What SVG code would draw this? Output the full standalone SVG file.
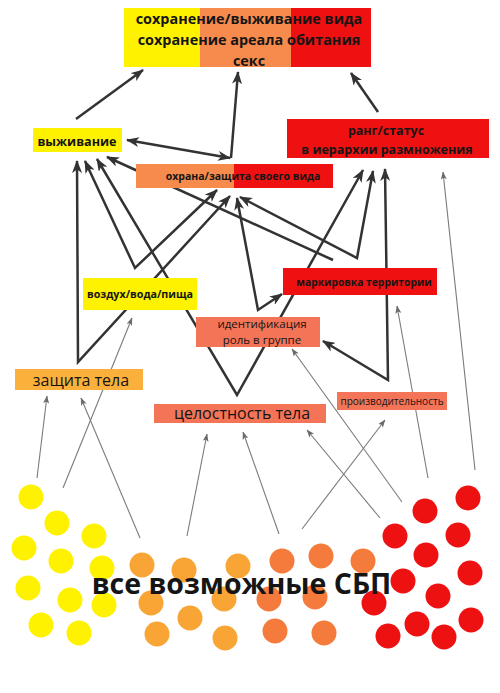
<svg xmlns="http://www.w3.org/2000/svg" width="500" height="693" viewBox="0 0 500 693">
<style>
  .t { font-family: "Open Sans", "Liberation Sans", sans-serif; fill: #151515; text-anchor: middle; }
  .b { font-weight: bold; }
  .thick { fill: none; stroke: #333333; stroke-width: 2.5; stroke-linejoin: miter; }
  .thin { fill: none; stroke: #7a7a7a; stroke-width: 1.1; }
  .yel { fill: #FFF200; }
  .org { fill: #F78B4D; }
  .red { fill: #EF1111; }
  .sal { fill: #F47458; }
  .amb { fill: #FBB03B; }
  .cy { fill: #FFF200; }
  .co { fill: #F9A535; }
  .cd { fill: #F47B3C; }
  .cr { fill: #EE1111; }
</style>
<defs>
  <marker id="ah" viewBox="0 0 13 10" refX="12" refY="5" markerWidth="13" markerHeight="10" markerUnits="userSpaceOnUse" orient="auto-start-reverse">
    <path d="M0,0 L13,5 L0,10 L3.5,5 Z" fill="#333333"/>
  </marker>
  <marker id="ahs" viewBox="0 0 8 6" refX="7.5" refY="3" markerWidth="8" markerHeight="6" markerUnits="userSpaceOnUse" orient="auto-start-reverse">
    <path d="M0,0 L8,3 L0,6 L2,3 Z" fill="#6a6a6a"/>
  </marker>
</defs>
<rect width="500" height="693" fill="#ffffff"/>

<g id="connectors">
  <g id="thin-arrows">
    <line class="thin" x1="37" y1="478" x2="47" y2="396" marker-end="url(#ahs)"/>
    <line class="thin" x1="63" y1="488" x2="132" y2="318" marker-end="url(#ahs)"/>
    <line class="thin" x1="140" y1="538" x2="81" y2="398" marker-end="url(#ahs)"/>
    <line class="thin" x1="187" y1="536" x2="207" y2="434" marker-end="url(#ahs)"/>
    <line class="thin" x1="279" y1="534" x2="243" y2="432" marker-end="url(#ahs)"/>
    <line class="thin" x1="302" y1="529" x2="385" y2="420" marker-end="url(#ahs)"/>
    <line class="thin" x1="380" y1="518" x2="307" y2="430" marker-end="url(#ahs)"/>
    <line class="thin" x1="402" y1="502" x2="292" y2="349" marker-end="url(#ahs)"/>
    <line class="thin" x1="428" y1="478" x2="397" y2="306" marker-end="url(#ahs)"/>
    <line class="thin" x1="475" y1="470" x2="443" y2="172" marker-end="url(#ahs)"/>
  </g>
  <g id="thick-arrows">
    <line class="thick" x1="76" y1="119" x2="143" y2="70" marker-end="url(#ah)"/>
    <line class="thick" x1="127" y1="140" x2="230" y2="158" marker-start="url(#ah)" marker-end="url(#ah)"/>
    <line class="thick" x1="231" y1="158" x2="238" y2="72" marker-end="url(#ah)"/>
    <line class="thick" x1="378" y1="112" x2="351" y2="73" marker-end="url(#ah)"/>
    <polyline class="thick" points="77,161 78,362 230,196" marker-start="url(#ah)" marker-end="url(#ah)"/>
    <polyline class="thick" points="85,161 135,268 217,190" marker-start="url(#ah)" marker-end="url(#ah)"/>
    <polyline class="thick" points="97,159 237,395 363,170" marker-start="url(#ah)" marker-end="url(#ah)"/>
    <line class="thick" x1="107" y1="157" x2="333" y2="260" marker-start="url(#ah)"/>
    <polyline class="thick" points="240,197 357,258 373,171" marker-start="url(#ah)" marker-end="url(#ah)"/>
    <polyline class="thick" points="237,198 258,310 282,294" marker-start="url(#ah)" marker-end="url(#ah)"/>
    <polyline class="thick" points="385,169 388,380 323,341" marker-start="url(#ah)" marker-end="url(#ah)"/>
  </g>
</g>

<g id="top">
  <rect class="yel" x="124" y="8" width="76" height="59"/>
  <rect class="org" x="200" y="8" width="91" height="59"/>
  <rect class="red" x="291" y="8" width="80" height="59"/>
  <text class="t b" x="249" y="23.5" font-size="14.4">сохранение/выживание вида</text>
  <text class="t b" x="249" y="45" font-size="14.4">сохранение ареала обитания</text>
  <text class="t b" x="249" y="66" font-size="14.4">секс</text>
</g>

<g id="vyzhivanie">
  <rect class="yel" x="33" y="128" width="89" height="24"/>
  <text class="t b" x="77" y="145.5" font-size="12.6">выживание</text>
</g>

<g id="rang">
  <rect class="red" x="287" y="119" width="202" height="39"/>
  <text class="t b" x="386" y="134.5" font-size="12.5">ранг/статус</text>
  <text class="t b" x="387" y="153.5" font-size="12.5">в иерархии размножения</text>
</g>

<g id="ohrana">
  <rect class="org" x="136" y="164" width="99" height="24"/>
  <rect class="red" x="234" y="164" width="99" height="24"/>
  <text class="t b" x="243" y="180" font-size="10.5">охрана/защита своего вида</text>
</g>

<g id="vozduh">
  <rect class="yel" x="83" y="278" width="114" height="32"/>
  <text class="t b" x="140" y="298" font-size="10.7">воздух/вода/пища</text>
</g>

<g id="markirovka">
  <rect class="red" x="283" y="268" width="154" height="27"/>
  <text class="t b" x="364" y="286" font-size="10.3">маркировка территории</text>
</g>

<g id="identifikaciya">
  <rect class="sal" x="196" y="317" width="124" height="30"/>
  <text class="t" x="262" y="327.5" font-size="11.5">идентификация</text>
  <text class="t" x="262" y="343.5" font-size="11.5">роль в группе</text>
</g>

<g id="zashchita-tela">
  <rect class="amb" x="15" y="369" width="128" height="21"/>
  <text class="t" x="81" y="385.5" font-size="16">защита тела</text>
</g>

<g id="celostnost">
  <rect class="sal" x="154" y="404" width="172" height="19"/>
  <text class="t" x="242" y="419" font-size="16">целостность тела</text>
</g>

<g id="proizvoditelnost">
  <rect class="sal" x="337" y="392" width="110" height="18"/>
  <text class="t" x="392" y="404.5" font-size="10">производительность</text>
</g>

<g id="sbp">
  <g id="yellow-dots">
    <circle class="cy" cx="31" cy="497" r="12.5"/>
    <circle class="cy" cx="57" cy="523" r="12.5"/>
    <circle class="cy" cx="94" cy="536" r="12.5"/>
    <circle class="cy" cx="24" cy="548" r="12.5"/>
    <circle class="cy" cx="61" cy="561" r="12.5"/>
    <circle class="cy" cx="102" cy="568" r="12.5"/>
    <circle class="cy" cx="28" cy="588" r="12.5"/>
    <circle class="cy" cx="70" cy="600" r="12.5"/>
    <circle class="cy" cx="104" cy="605" r="12.5"/>
    <circle class="cy" cx="41" cy="625" r="12.5"/>
    <circle class="cy" cx="79" cy="633" r="12.5"/>
  </g>
  <g id="orange-dots">
    <circle class="co" cx="142" cy="565" r="12.5"/>
    <circle class="co" cx="184" cy="570" r="12.5"/>
    <circle class="co" cx="238" cy="566" r="12.5"/>
    <circle class="co" cx="151" cy="603" r="12.5"/>
    <circle class="co" cx="224" cy="599" r="12.5"/>
    <circle class="co" cx="190" cy="618" r="12.5"/>
    <circle class="co" cx="157" cy="634" r="12.5"/>
    <circle class="co" cx="225" cy="638" r="12.5"/>
  </g>
  <g id="darkorange-dots">
    <circle class="cd" cx="282" cy="561" r="12.5"/>
    <circle class="cd" cx="321" cy="556" r="12.5"/>
    <circle class="cd" cx="363" cy="561" r="12.5"/>
    <circle class="cd" cx="269" cy="599" r="12.5"/>
    <circle class="cd" cx="315" cy="597" r="12.5"/>
    <circle class="cd" cx="275" cy="631" r="12.5"/>
    <circle class="cd" cx="324" cy="633" r="12.5"/>
  </g>
  <g id="red-dots">
    <circle class="cr" cx="468" cy="498" r="12.5"/>
    <circle class="cr" cx="425" cy="511" r="12.5"/>
    <circle class="cr" cx="395" cy="536" r="12.5"/>
    <circle class="cr" cx="458" cy="535" r="12.5"/>
    <circle class="cr" cx="426" cy="555" r="12.5"/>
    <circle class="cr" cx="470" cy="573" r="12.5"/>
    <circle class="cr" cx="403" cy="581" r="12.5"/>
    <circle class="cr" cx="438" cy="596" r="12.5"/>
    <circle class="cr" cx="374" cy="603" r="12.5"/>
    <circle class="cr" cx="471" cy="620" r="12.5"/>
    <circle class="cr" cx="417" cy="624" r="12.5"/>
    <circle class="cr" cx="388" cy="636" r="12.5"/>
    <circle class="cr" cx="444" cy="637" r="12.5"/>
  </g>
  <text class="t b" x="241.5" y="594" font-size="28.5" fill="#111111">все возможные СБП</text>
</g>
</svg>
